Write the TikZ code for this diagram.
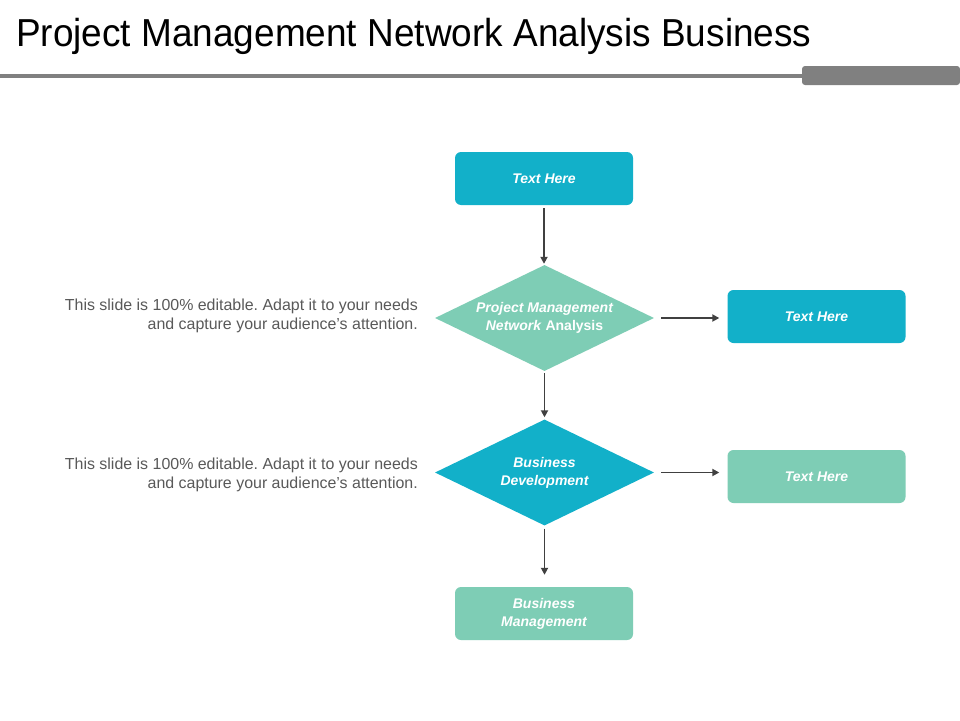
\documentclass[tikz,border=0pt]{standalone}
\usepackage{fontspec}
\setmainfont{Liberation Sans}
\usetikzlibrary{shapes.geometric,arrows.meta}
\definecolor{teal}{HTML}{12B0C9}
\definecolor{mint}{HTML}{7ECDB5}
\definecolor{bargray}{HTML}{808080}
\definecolor{txtgray}{HTML}{595959}
\definecolor{arrowgray}{HTML}{404040}
\begin{document}
\frenchspacing
\begin{tikzpicture}[x=1pt,y=-1pt,
  box/.style={rounded corners=6pt,minimum width=178pt,minimum height=53pt,inner sep=0pt,
    text=white,font=\fontsize{14}{18}\selectfont\bfseries\itshape,align=center},
  dia/.style={diamond,aspect=2.07,minimum width=219pt,minimum height=106pt,inner sep=0pt,
    text=white,font=\fontsize{14}{18}\selectfont\bfseries\itshape,align=center},
  conn/.style={draw=arrowgray,line width=1.8pt,-{Triangle[length=7pt,width=7pt]}},
  note/.style={text=txtgray,font=\fontsize{15.95}{19}\selectfont,align=right,anchor=east,inner sep=0pt}
]
\useasboundingbox (0,0) rectangle (960,720);
\fill[white] (0,0) rectangle (960,720);
% header
\node[anchor=base west,inner sep=0pt,font=\fontsize{39}{44}\selectfont] (title) at (16,46) {\scalebox{0.948}[1]{Project Management Network Analysis Business}};
\fill[bargray] (0,73.5) rectangle (805,77.5);
\fill[bargray,rounded corners=3pt] (802,66) rectangle (960,85);
% nodes
\node[box,fill=teal] (top) at (544,178.5) {Text Here};
\node[dia,fill=mint] (d1) at (544.5,318) {Project Management\\Network \textup{Analysis}};
\node[box,fill=teal] (r1) at (816.5,316.5) {Text Here};
\node[dia,fill=teal] (d2) at (544.5,472.5) {Business\\Development};
\node[box,fill=mint] (r2) at (816.5,476.5) {Text Here};
\node[box,fill=mint] (bot) at (544,613.5) {Business\\Management};
\node[note] (n1) at (418,315.5) {This slide is 100\% editable. Adapt it to your needs\\and capture your audience{\char"0027}s attention.};
\node[note] (n2) at (418,474.5) {This slide is 100\% editable. Adapt it to your needs\\and capture your audience{\char"0027}s attention.};
% connectors
\draw[conn,shorten <=3pt,shorten >=1pt] (top.south) -- (top.south |- d1.north);
\draw[conn,shorten <=2pt,shorten >=2pt] (d1) -- (d2);
\draw[conn,shorten <=3pt,shorten >=12pt] (d2.south) -- (d2.south |- bot.north);
\draw[conn,shorten <=7pt,shorten >=8pt] (d1.east) -- (d1.east -| r1.west);
\draw[conn,shorten <=7pt,shorten >=8pt] (d2.east) -- (d2.east -| r2.west);
\end{tikzpicture}
\end{document}
